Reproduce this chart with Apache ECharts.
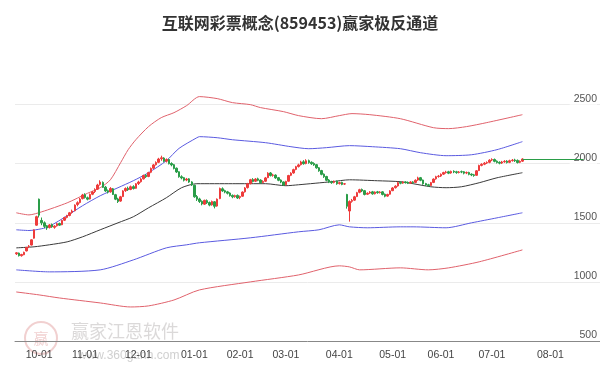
<!DOCTYPE html>
<html><head><meta charset="utf-8">
<script src="https://cdn.jsdelivr.net/npm/echarts@6/dist/echarts.min.js"></script>
<style>html,body{margin:0;padding:0;background:#fff}#c{width:600px;height:371px}</style>
</head><body><div id="c"></div>
<script>
const titleText = '互联网彩票概念(859453)赢家极反通道';
// trading days per month (category axis)
const tradingDays = {
  '2024-09': [18,19,20,23,24,25,26,27,30],
  '2024-10': [8,9,10,11,14,15,16,17,18,21,22,23,24,25,28,29,30,31],
  '2024-11': [1,4,5,6,7,8,11,12,13,14,15,18,19,20,21,22,25,26,27,28,29],
  '2024-12': [2,3,4,5,6,9,10,11,12,13,16,17,18,19,20,23,24,25,26,27,30,31],
  '2025-01': [2,3,6,7,8,9,10,13,14,15,16,17,20,21,22,23,24,27],
  '2025-02': [5,6,7,10,11,12,13,14,17,18,19,20,21,24,25,26,27,28],
  '2025-03': [3,4,5,6,7,10,11,12,13,14,17,18,19,20,21,24,25,26,27,28,31],
  '2025-04': [1,2,3,7,8,9,10,11,14,15,16,17,18,21,22,23,24,25,28,29,30],
  '2025-05': [6,7,8,9,12,13,14,15,16,19,20,21,22,23,26,27,28,29,30],
  '2025-06': [3,4,5,6,9,10,11,12,13,16,17,18,19,20,23,24,25,26,27,30],
  '2025-07': [1,2,3,4,7,8,9,10,11,14,15,16,17,18,21,22,23,24,25,28,29,30,31],
  '2025-08': [1,4,5,6,7,8,11,12,13,14,15,18,19,20,21,22,25,26,27,28]
};
// [open, close, low, high]
const candles = [
[1238,1246,1228,1252],[1244,1222,1215,1248],[1222,1232,1214,1238],[1230,1250,1226,1256],[1262,1292,1258,1296],
[1300,1302,1286,1312],[1312,1356,1308,1360],[1370,1440,1366,1444],[1480,1552,1476,1560],[1700,1565,1545,1705],
[1520,1500,1480,1545],[1500,1470,1455,1512],[1475,1456,1440,1482],[1460,1482,1452,1490],[1484,1466,1458,1494],
[1462,1472,1450,1480],[1475,1492,1468,1500],[1494,1480,1474,1502],[1484,1520,1480,1526],[1522,1545,1515,1552],
[1546,1560,1538,1568],[1562,1585,1555,1592],[1588,1600,1578,1612],[1602,1650,1598,1656],[1655,1670,1640,1682],
[1672,1700,1664,1710],[1705,1735,1698,1745],[1738,1715,1705,1750],[1712,1700,1690,1722],[1702,1740,1698,1748],
[1742,1760,1734,1770],[1765,1780,1752,1792],[1785,1820,1778,1830],[1825,1845,1815,1860],[1842,1800,1795,1850],
[1802,1770,1762,1812],[1772,1760,1748,1782],[1762,1790,1755,1802],[1788,1740,1735,1795],[1738,1700,1692,1745],
[1702,1680,1668,1712],[1684,1720,1678,1728],[1722,1770,1718,1776],[1772,1790,1762,1800],[1792,1780,1770,1806],
[1782,1805,1776,1815],[1806,1790,1782,1818],[1792,1830,1788,1836],[1832,1845,1820,1856],[1848,1870,1840,1878],
[1872,1900,1866,1908],[1902,1890,1880,1912],[1892,1925,1886,1932],[1928,1960,1920,1968],[1962,1990,1955,1998],
[1992,2010,1985,2020],[2012,2040,2005,2050],[2042,2050,2025,2068],[2048,2020,2012,2055],[2022,2035,2010,2045],
[2036,2000,1994,2042],[2002,1990,1978,2012],[1992,1960,1952,1998],[1962,1930,1922,1968],[1932,1890,1882,1936],
[1890,1880,1868,1902],[1882,1860,1850,1888],[1862,1870,1852,1880],[1872,1845,1838,1878],[1846,1820,1812,1852],
[1818,1720,1712,1822],[1722,1700,1685,1735],[1702,1680,1668,1712],[1682,1660,1648,1690],[1658,1690,1652,1696],
[1688,1670,1660,1698],[1672,1650,1640,1680],[1652,1680,1645,1688],[1678,1640,1622,1684],[1642,1700,1636,1706],
[1705,1790,1700,1798],[1788,1770,1762,1800],[1772,1760,1750,1780],[1762,1750,1740,1770],[1752,1730,1722,1758],
[1732,1720,1708,1740],[1722,1730,1712,1738],[1732,1710,1702,1740],[1715,1722,1700,1730],[1725,1760,1720,1766],
[1762,1795,1756,1802],[1798,1830,1790,1838],[1832,1865,1825,1872],[1866,1850,1842,1878],[1852,1870,1845,1878],
[1872,1860,1852,1882],[1862,1840,1832,1868],[1842,1850,1835,1860],[1852,1880,1846,1888],[1882,1920,1878,1928],
[1922,1900,1892,1930],[1902,1905,1890,1915],[1904,1880,1872,1910],[1882,1860,1852,1888],[1862,1845,1835,1868],
[1846,1820,1812,1850],[1822,1850,1818,1856],[1852,1900,1848,1906],[1902,1920,1895,1928],[1922,1950,1915,1958],
[1952,1975,1945,1982],[1976,1990,1968,2000],[1992,2015,1985,2025],[2016,2000,1992,2030],[2002,2025,1995,2038],
[2026,2010,2000,2035],[2012,2000,1990,2020],[2002,1990,1982,2012],[1992,1965,1958,1998],[1966,1940,1932,1972],
[1942,1910,1902,1948],[1912,1890,1880,1918],[1892,1860,1852,1898],[1862,1845,1836,1870],[1846,1840,1830,1856],
[1842,1850,1834,1858],[1852,1830,1822,1858],[1832,1840,1824,1848],[1842,1825,1818,1848],[1828,1830,1820,1836],
[1740,1640,1620,1745],[1600,1680,1510,1690],[1682,1690,1670,1702],[1692,1720,1686,1728],[1722,1755,1718,1762],
[1758,1780,1750,1788],[1782,1770,1760,1790],[1772,1740,1732,1778],[1742,1750,1735,1758],[1752,1760,1745,1768],
[1762,1745,1738,1770],[1746,1760,1740,1766],[1762,1755,1746,1770],[1756,1760,1748,1768],[1762,1740,1732,1768],
[1742,1725,1716,1748],[1726,1740,1720,1746],[1742,1770,1738,1776],[1772,1795,1768,1802],[1797,1810,1790,1818],
[1812,1840,1806,1848],[1842,1835,1826,1850],[1836,1845,1830,1852],[1846,1840,1832,1852],[1842,1835,1828,1850],
[1836,1845,1830,1852],[1846,1840,1832,1852],[1842,1860,1836,1868],[1862,1880,1855,1890],[1882,1860,1852,1888],
[1862,1830,1822,1866],[1832,1820,1812,1838],[1822,1815,1805,1830],[1816,1840,1810,1846],[1842,1870,1836,1876],
[1872,1890,1865,1898],[1892,1895,1882,1905],[1896,1910,1888,1918],[1912,1925,1905,1932],[1926,1930,1916,1940],
[1932,1920,1912,1940],[1922,1935,1915,1942],[1936,1930,1920,1944],[1932,1925,1915,1940],[1926,1930,1918,1938],
[1932,1930,1920,1942],[1932,1920,1910,1938],[1922,1925,1912,1934],[1926,1910,1902,1932],[1912,1905,1895,1918],
[1906,1900,1890,1914],[1902,1940,1898,1946],[1942,1985,1938,1992],[1986,1995,1978,2004],[1996,2005,1988,2014],
[2006,2010,1998,2020],[2012,2030,2004,2038],[2032,2035,2022,2046],[2036,2020,2012,2044],[2022,2010,2002,2028],
[2012,2005,1995,2020],[2006,2015,1998,2024],[2016,2020,2008,2030],[2022,2010,2002,2030],[2012,2025,2005,2034],
[2026,2030,2018,2040],[2032,2025,2015,2042],[2028,2010,2002,2036],[2012,2020,2005,2028],[2022,2040,2015,2046]
];
// channel lines: [trading-day index, value]
const upperOuter = [[0,1585],[5,1567],[10,1593],[20,1669],[28,1750],[33,1797],[37,1864],[41,2008],[44,2119],[47,2203],[52,2314],[57,2390],[62,2432],[67,2492],[72,2568],[79,2551],[85,2517],[92,2500],[96,2475],[105,2441],[111,2407],[120,2381],[127,2407],[132,2424],[139,2415],[151,2381],[164,2305],[170,2297],[177,2314],[185,2348],[199,2415]];
const upperInner = [[0,1441],[5,1435],[10,1450],[13,1470],[20,1560],[26,1644],[33,1729],[40,1797],[46,1856],[52,1924],[59,2025],[64,2130],[71,2220],[72,2229],[79,2220],[85,2203],[98,2178],[108,2144],[115,2127],[122,2136],[131,2153],[140,2144],[151,2127],[159,2093],[169,2068],[179,2076],[189,2119],[199,2187]];
const middle = [[0,1288],[7,1297],[13,1314],[20,1339],[26,1381],[33,1441],[40,1500],[46,1551],[52,1627],[59,1712],[65,1797],[71,1831],[85,1831],[98,1831],[106,1814],[111,1822],[124,1848],[131,1864],[142,1856],[151,1848],[156,1831],[163,1805],[169,1797],[175,1805],[182,1839],[189,1881],[199,1924]];
const lowerInner = [[0,1102],[13,1085],[33,1102],[46,1186],[59,1288],[67,1314],[72,1331],[92,1373],[111,1424],[119,1441],[127,1483],[131,1466],[138,1458],[151,1466],[156,1466],[169,1458],[179,1500],[189,1542],[199,1585]];
const lowerOuter = [[0,915],[9,890],[17,864],[33,822],[45,788],[52,797],[62,847],[72,932],[92,1000],[111,1059],[127,1136],[131,1127],[135,1102],[151,1119],[162,1102],[170,1119],[182,1170],[199,1271]];
const yTicks = [500,1000,1500,2000,2500];

const dates = [];
Object.keys(tradingDays).forEach(m => tradingDays[m].forEach(d => dates.push(m + '-' + String(d).padStart(2,'0'))));
const isMonthStart = (i) => i > 0 && dates[i].slice(0,7) !== dates[i-1].slice(0,7);
const lastIdx = candles.length - 1;
const lastClose = candles[lastIdx][1];

const chart = echarts.init(document.getElementById('c'));
const lineS = (data, color) => ({type:'line', data, showSymbol:false, smooth:0.25, silent:true,
  lineStyle:{color, width:1}, z:3});
chart.setOption({
  animation:false,
  title:{text:titleText, left:'center', top:10,
    textStyle:{fontSize:16, fontWeight:'bold', color:'#333', fontFamily:'"Noto Sans CJK SC", sans-serif'}},
  grid:{left:15, right:0, top:81, bottom:30},
  graphic:[
    {type:'circle', shape:{cx:41, cy:338, r:16}, style:{fill:'none', stroke:'rgba(225,150,150,0.45)', lineWidth:2}, z:0},
    {type:'text', x:41, y:338, style:{text:'赢', fontSize:15, fill:'rgba(225,150,150,0.45)', align:'center', verticalAlign:'middle', fontFamily:'"Noto Sans CJK SC"'}, z:0},
    {type:'text', x:71, y:331, style:{text:'赢家江恩软件', fontSize:18, fill:'rgba(190,185,185,0.55)', verticalAlign:'middle', fontFamily:'"Noto Sans CJK SC"'}, z:0},
    {type:'text', x:78, y:356, style:{text:'www.360gann.com', fontSize:12, fill:'rgba(175,175,175,0.6)', verticalAlign:'middle', fontFamily:'"Liberation Sans", Arial'}, z:0}
  ],
  xAxis:{type:'category', data:dates, boundaryGap:true,
    axisLine:{lineStyle:{color:'#888'}},
    axisTick:{alignWithLabel:true, interval:isMonthStart, length:5, lineStyle:{color:'#888'}},
    axisLabel:{interval:isMonthStart, formatter:v => v.slice(5,7) + '-01', color:'#444', fontSize:10.5, margin:9,
      fontFamily:'"Liberation Sans", Arial'},
    splitLine:{show:false}},
  yAxis:{type:'value', position:'right', min:yTicks[0], max:2700, interval:500,
    axisLine:{show:false}, axisTick:{show:false},
    axisLabel:{inside:true, verticalAlign:'bottom', margin:3, color:'#555', fontSize:10.5,
      fontFamily:'"Liberation Sans", Arial', backgroundColor:'#fff', padding:[0,0,0,4],
      formatter:v => yTicks.indexOf(v) >= 0 ? String(v) : ''},
    splitLine:{lineStyle:{color:'#ebebeb'}, showMinLine:false, showMaxLine:false}},
  series:[
    lineS(upperOuter, '#e0626c'),
    lineS(upperInner, '#5a5ae0'),
    lineS(middle, '#3a3a3a'),
    lineS(lowerInner, '#5a5ae0'),
    lineS(lowerOuter, '#e0626c'),
    {type:'candlestick', data:candles, z:4, barWidth:2,
      itemStyle:{color:'#ee3b3b', color0:'#2a9d48', borderColor:'#ee3b3b', borderColor0:'#2a9d48', borderWidth:1},
      markLine:{silent:true, symbol:['none','none'], label:{show:false},
        lineStyle:{color:'#2a9d48', width:1, type:'solid'},
        data:[[{coord:[dates[lastIdx], lastClose]}, {coord:[dates[223], lastClose]}]]}}
  ]
});
</script></body></html>
